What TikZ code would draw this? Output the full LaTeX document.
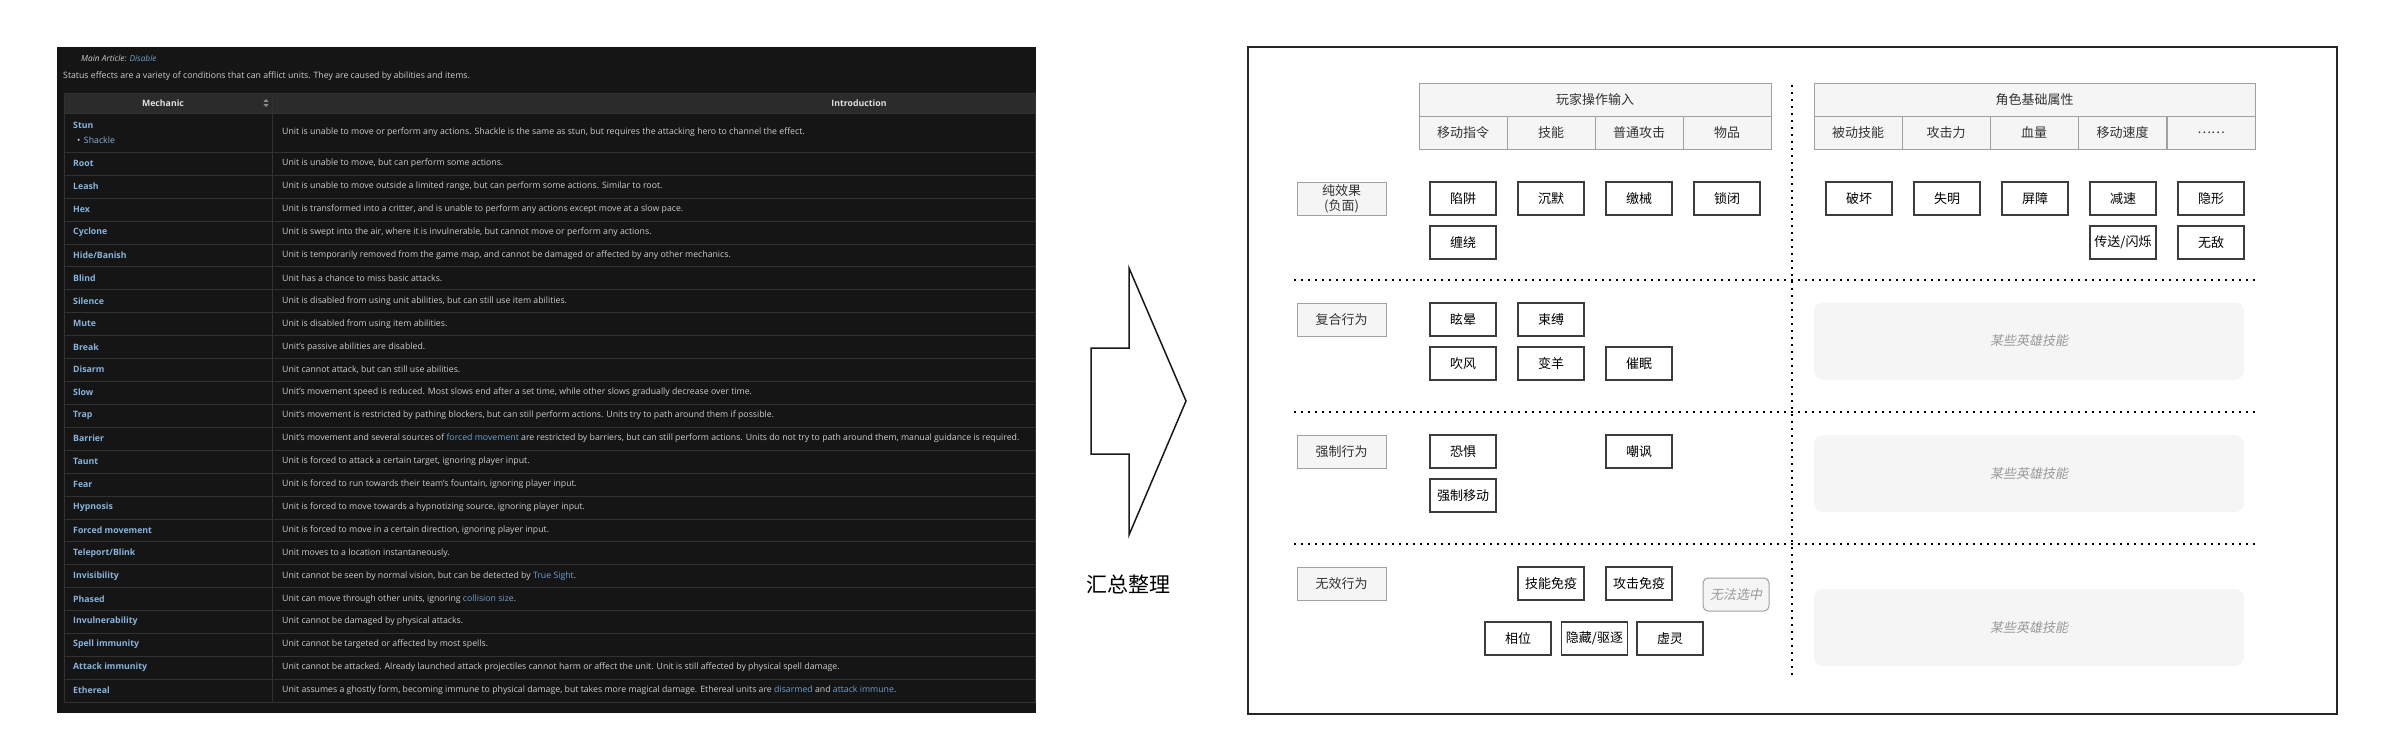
\documentclass[tikz,border=0pt]{standalone}
\usepackage{fontspec}
\setmainfont{Open Sans}
\newfontfamily\cjk{Noto Sans CJK SC}
\newfontfamily\cjkit[FakeSlant=0.2]{Noto Sans CJK SC}
\usepackage{tikz}

\definecolor{pagebg}{RGB}{21,21,21}
\definecolor{headbg}{RGB}{43,43,43}
\definecolor{gridln}{RGB}{50,50,50}
\definecolor{namefg}{RGB}{134,180,222}
\definecolor{linkfg}{RGB}{110,160,205}
\definecolor{textfg}{RGB}{205,205,205}
\definecolor{cellbg}{RGB}{245,245,245}
\definecolor{cellln}{RGB}{160,160,160}
\definecolor{boxln}{RGB}{60,60,60}
\newcommand{\lnk}[1]{\textcolor{linkfg}{#1}}

\tikzset{
  cell/.style={draw=cellln,fill=cellbg,line width=1pt,inner sep=0pt,text=black!80,
    minimum height=33pt,align=center,font=\cjk\fontsize{13}{15}\selectfont},
  fxbox/.style={draw=boxln,fill=white,line width=1.3pt,inner sep=0pt,text=black,
    minimum width=66pt,minimum height=33pt,font=\cjk\fontsize{13}{15}\selectfont},
  heroskill/.style={fill=cellbg,rounded corners=9pt,inner sep=0pt,text=black!40,
    minimum width=430pt,minimum height=77pt,font=\cjkit\fontsize{13}{15}\selectfont},
  sepline/.style={line width=2pt,dash pattern=on 2pt off 5pt}
}

\begin{document}
\begin{tikzpicture}[x=1pt,y=-1pt]
\useasboundingbox (0,0) rectangle (2383,753);

\fill[pagebg] (57,47) rectangle (1036,713);
\fill[headbg] (64,93) rectangle (1035,113);
\draw[gridln] (64,93) rectangle (1035,702);
\draw[gridln] (272,93) -- (272,702);
\draw[gridln] (64,113) -- (1035,113) (64,152) -- (1035,152)
  (64,174.9) -- (1035,174.9) (64,197.8) -- (1035,197.8) (64,220.8) -- (1035,220.8)
  (64,243.7) -- (1035,243.7) (64,266.6) -- (1035,266.6) (64,289.5) -- (1035,289.5)
  (64,312.4) -- (1035,312.4) (64,335.4) -- (1035,335.4) (64,358.3) -- (1035,358.3)
  (64,381.2) -- (1035,381.2) (64,404.1) -- (1035,404.1) (64,427.0) -- (1035,427.0)
  (64,450.0) -- (1035,450.0) (64,472.9) -- (1035,472.9) (64,495.8) -- (1035,495.8)
  (64,518.7) -- (1035,518.7) (64,541.6) -- (1035,541.6) (64,564.6) -- (1035,564.6)
  (64,587.5) -- (1035,587.5) (64,610.4) -- (1035,610.4) (64,633.3) -- (1035,633.3)
  (64,656.2) -- (1035,656.2) (64,679.2) -- (1035,679.2);
\fill[black!45] (263.5,101.8) -- (268.5,101.8) -- (266,99) -- cycle;
\fill[black!45] (263.5,104.2) -- (268.5,104.2) -- (266,107) -- cycle;

\begin{scope}[every node/.style={anchor=west,inner sep=0pt,text=textfg,
    font=\fontsize{8.75}{10}\selectfont}]
    \node[font=\fontsize{8.3}{10}\selectfont\itshape] (mainart) at (81,58) {Main Article: \lnk{Disable}};
    \node (intro) at (63,76) {Status effects are a variety of conditions that can afflict units. They are caused by abilities and items.};
    \node[anchor=center,text=black!12,font=\fontsize{8.75}{10}\selectfont\bfseries] (hmech) at (163,103) {Mechanic};
    \node[anchor=center,text=black!12,font=\fontsize{8.75}{10}\selectfont\bfseries] (hintro) at (859,103) {Introduction};
    \node (shackle) at (77,140) {•\hspace{3.5pt}\textcolor{namefg}{Shackle}};
\end{scope}

\begin{scope}[every node/.style={anchor=west,inner sep=0pt,text=namefg,
    font=\fontsize{8.75}{10}\selectfont\bfseries}]
    \node (stun) at (73,125) {Stun};
    \node (root) at (73,163.5) {Root};
    \node (leash) at (73,186.4) {Leash};
    \node (hex) at (73,209.3) {Hex};
    \node (cyclone) at (73,232.2) {Cyclone};
    \node (hide) at (73,255.1) {Hide/Banish};
    \node (blind) at (73,278.0) {Blind};
    \node (silence) at (73,300.9) {Silence};
    \node (mute) at (73,323.9) {Mute};
    \node (break) at (73,346.8) {Break};
    \node (disarm) at (73,369.7) {Disarm};
    \node (slow) at (73,392.6) {Slow};
    \node (trap) at (73,415.5) {Trap};
    \node (barrier) at (73,438.4) {Barrier};
    \node (taunt) at (73,461.3) {Taunt};
    \node (fear) at (73,484.2) {Fear};
    \node (hypno) at (73,507.1) {Hypnosis};
    \node (forced) at (73,530.0) {Forced movement};
    \node (blink) at (73,552.9) {Teleport/Blink};
    \node (invis) at (73,575.8) {Invisibility};
    \node (phased) at (73,598.8) {Phased};
    \node (invul) at (73,621.7) {Invulnerability};
    \node (spellimm) at (73,644.6) {Spell immunity};
    \node (attackimm) at (73,667.5) {Attack immunity};
    \node (ethereal) at (73,690.4) {Ethereal};
\end{scope}

\begin{scope}[every node/.style={anchor=west,inner sep=0pt,text=textfg,
    font=\fontsize{8.75}{10}\selectfont}]
    \node (d-stun) at (282,132.5) {Unit is unable to move or perform any actions. Shackle is the same as stun, but requires the attacking hero to channel the effect.};
    \node (d-root) at (282,163.5) {Unit is unable to move, but can perform some actions.};
    \node (d-leash) at (282,186.4) {Unit is unable to move outside a limited range, but can perform some actions. Similar to root.};
    \node (d-hex) at (282,209.3) {Unit is transformed into a critter, and is unable to perform any actions except move at a slow pace.};
    \node (d-cyclone) at (282,232.2) {Unit is swept into the air, where it is invulnerable, but cannot move or perform any actions.};
    \node (d-hide) at (282,255.1) {Unit is temporarily removed from the game map, and cannot be damaged or affected by any other mechanics.};
    \node (d-blind) at (282,278.0) {Unit has a chance to miss basic attacks.};
    \node (d-silence) at (282,300.9) {Unit is disabled from using unit abilities, but can still use item abilities.};
    \node (d-mute) at (282,323.9) {Unit is disabled from using item abilities.};
    \node (d-break) at (282,346.8) {Unit's passive abilities are disabled.};
    \node (d-disarm) at (282,369.7) {Unit cannot attack, but can still use abilities.};
    \node (d-slow) at (282,392.6) {Unit's movement speed is reduced. Most slows end after a set time, while other slows gradually decrease over time.};
    \node (d-trap) at (282,415.5) {Unit's movement is restricted by pathing blockers, but can still perform actions. Units try to path around them if possible.};
    \node (d-barrier) at (282,438.4) {Unit's movement and several sources of \lnk{forced movement} are restricted by barriers, but can still perform actions. Units do not try to path around them, manual guidance is required.};
    \node (d-taunt) at (282,461.3) {Unit is forced to attack a certain target, ignoring player input.};
    \node (d-fear) at (282,484.2) {Unit is forced to run towards their team's fountain, ignoring player input.};
    \node (d-hypno) at (282,507.1) {Unit is forced to move towards a hypnotizing source, ignoring player input.};
    \node (d-forced) at (282,530.0) {Unit is forced to move in a certain direction, ignoring player input.};
    \node (d-blink) at (282,552.9) {Unit moves to a location instantaneously.};
    \node (d-invis) at (282,575.8) {Unit cannot be seen by normal vision, but can be detected by \lnk{True Sight}.};
    \node (d-phased) at (282,598.8) {Unit can move through other units, ignoring \lnk{collision size}.};
    \node (d-invul) at (282,621.7) {Unit cannot be damaged by physical attacks.};
    \node (d-spellimm) at (282,644.6) {Unit cannot be targeted or affected by most spells.};
    \node (d-attackimm) at (282,667.5) {Unit cannot be attacked. Already launched attack projectiles cannot harm or affect the unit. Unit is still affected by physical spell damage.};
    \node (d-ethereal) at (282,690.4) {Unit assumes a ghostly form, becoming immune to physical damage, but takes more magical damage. Ethereal units are \lnk{disarmed} and \lnk{attack immune}.};
\end{scope}

\draw[line width=1.5pt,black!90] (1091,348) -- (1129,348) -- (1129,268) -- (1186,401)
  -- (1129,535) -- (1129,454) -- (1091,454) -- cycle;
\node[font=\cjk\fontsize{21}{21}\selectfont] (summary) at (1128,584) {汇总整理};

\draw[line width=2pt,black!85] (1248,47) rectangle (2337,714);

\node[cell,minimum width=352pt] (input) at (1595,99.5) {玩家操作输入};
\node[cell,minimum width=88pt] (moveorder) at (1463,132.5) {移动指令};
\node[cell,minimum width=88pt] (skill) at (1551,132.5) {技能};
\node[cell,minimum width=88pt] (attack) at (1639,132.5) {普通攻击};
\node[cell,minimum width=88pt] (item) at (1727,132.5) {物品};

\node[cell,minimum width=441pt] (attr) at (2034.5,99.5) {角色基础属性};
\node[cell,minimum width=88pt] (passive) at (1858,132.5) {被动技能};
\node[cell,minimum width=88pt] (power) at (1946,132.5) {攻击力};
\node[cell,minimum width=88pt] (health) at (2034,132.5) {血量};
\node[cell,minimum width=88pt] (speed) at (2122.5,132.5) {移动速度};
\node[cell,minimum width=88pt] (more) at (2211,132.5) {……};

\node[cell,minimum width=89pt] (pure) at (1341.5,198.5) {纯效果\\(负面)};
\node[cell,minimum width=89pt] (compound) at (1341.5,319.5) {复合行为};
\node[cell,minimum width=89pt] (compel) at (1341.5,451.5) {强制行为};
\node[cell,minimum width=89pt] (void) at (1341.5,583.5) {无效行为};

\node[fxbox] (trapfx) at (1463,198.5) {陷阱};
\node[fxbox] (silencefx) at (1551,198.5) {沉默};
\node[fxbox] (disarmfx) at (1639,198.5) {缴械};
\node[fxbox] (mutefx) at (1727,198.5) {锁闭};
\node[fxbox] (leashfx) at (1463,242.5) {缠绕};

\node[fxbox] (breakfx) at (1859,198.5) {破坏};
\node[fxbox] (blindfx) at (1947,198.5) {失明};
\node[fxbox] (barrierfx) at (2035,198.5) {屏障};
\node[fxbox] (slowfx) at (2123,198.5) {减速};
\node[fxbox] (invisfx) at (2211,198.5) {隐形};
\node[fxbox] (blinkfx) at (2123,242.5) {传送/闪烁};
\node[fxbox] (invulfx) at (2211,242.5) {无敌};

\node[fxbox] (stunfx) at (1463,319.5) {眩晕};
\node[fxbox] (rootfx) at (1551,319.5) {束缚};
\node[fxbox] (cyclonefx) at (1463,363.5) {吹风};
\node[fxbox] (hexfx) at (1551,363.5) {变羊};
\node[fxbox] (hypnofx) at (1639,363.5) {催眠};

\node[fxbox] (fearfx) at (1463,451.5) {恐惧};
\node[fxbox] (tauntfx) at (1639,451.5) {嘲讽};
\node[fxbox] (forcedfx) at (1463,495.5) {强制移动};

\node[fxbox] (spellimmfx) at (1551,583.5) {技能免疫};
\node[fxbox] (attackimmfx) at (1639,583.5) {攻击免疫};
\node[draw=cellln,fill=cellbg,line width=1pt,rounded corners=5pt,inner sep=0pt,
  minimum width=66pt,minimum height=33pt,text=black!40,
  font=\cjkit\fontsize{13}{15}\selectfont] (untarget) at (1736,594.5) {无法选中};
\node[fxbox] (phasedfx) at (1518,638.5) {相位};
\node[fxbox] (hidefx) at (1594.5,638.5) {隐藏/驱逐};
\node[fxbox] (etherealfx) at (1670,638.5) {虚灵};

\node[heroskill] (hero1) at (2029,341) {某些英雄技能};
\node[heroskill] (hero2) at (2029,473.5) {某些英雄技能};
\node[heroskill] (hero3) at (2029,627.5) {某些英雄技能};

\draw[sepline] (1294,280) -- (2255,280);
\draw[sepline] (1294,412) -- (2255,412);
\draw[sepline] (1294,544) -- (2255,544);
\draw[sepline] (1792,85) -- (1792,675);
\end{tikzpicture}
\end{document}
